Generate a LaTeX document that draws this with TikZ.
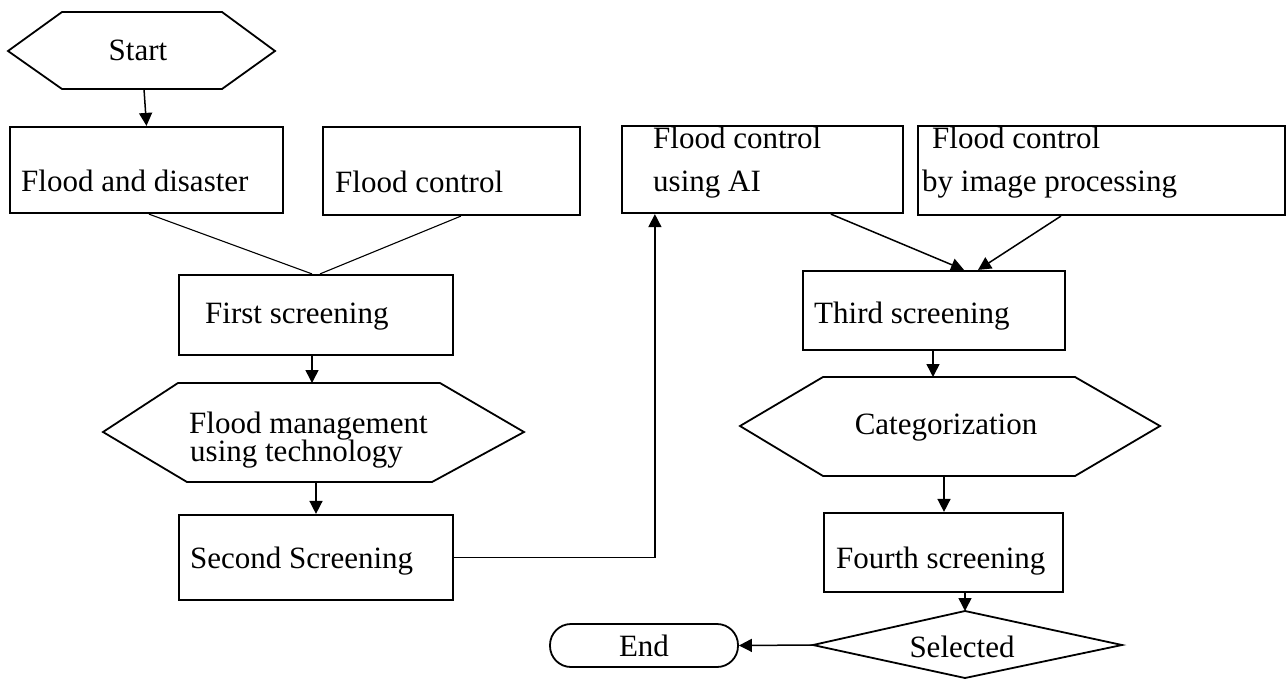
\documentclass[tikz,border=0pt]{standalone}
\usepackage{fontspec}
\setmainfont{Liberation Serif}
\usetikzlibrary{arrows.meta}
\begin{document}
\begin{tikzpicture}[x=1pt,y=-1pt,
  box/.style={draw, line width=2.2pt, inner sep=0pt},
  shp/.style={draw, line width=1.8pt, line join=miter},
  conn/.style={line width=1.1pt},
  arr/.style={line width=1.5pt, -{Triangle[length=13pt,width=13pt]}},
  txt/.style={anchor=base west, inner sep=0pt},
  font=\fontsize{31}{28}\selectfont]
\useasboundingbox (0,0) rectangle (1287,680);

% ---- hexagons and diamond (drawn shapes with named points)
\draw[shp] (8,51) -- (62,12) -- (222,12) -- (275,51) -- (222,89) -- (62,89) -- cycle;
\coordinate (startB) at (144,89);
\node[anchor=base, inner sep=0pt] (start) at (138,60) {Start};

\draw[shp] (103,432) -- (178,383) -- (440,383) -- (524,432) -- (432,482) -- (187,482) -- cycle;
\coordinate (fmT) at (312,383);
\coordinate (fmB) at (316,482);
\node[txt] (fm1) at (189,433) {Flood management};
\node[txt] (fm2) at (190,461) {using technology};

\draw[shp] (740,426) -- (823,377) -- (1075,377) -- (1160,426) -- (1075,476) -- (823,476) -- cycle;
\coordinate (catT) at (933,377);
\coordinate (catB) at (944,476);
\node[anchor=base, inner sep=0pt] (cat) at (946,434) {Categorization};

\draw[shp] (813,645) -- (965,611) -- (1122,645) -- (965,678) -- cycle;
\coordinate (selT) at (965,611);
\coordinate (selL) at (813,645);
\node[anchor=base, inner sep=0pt] (sel) at (962,657) {Selected};

\node[draw, line width=1.8pt, rounded corners=21pt, minimum width=188pt, minimum height=43pt, inner sep=0pt] (end) at (644,645.5) {End};

% ---- rectangles
\node[box, minimum width=273pt, minimum height=86pt] (fd) at (146.5,170) {};
\node[txt] at (21,191) {Flood and disaster};
\node[box, minimum width=257pt, minimum height=88pt] (fc) at (451.5,171) {};
\node[txt] at (335,192) {Flood control};
\node[box, minimum width=274pt, minimum height=80pt] (fs) at (316,315) {};
\node[txt] at (205,323) {First screening};
\node[box, minimum width=274pt, minimum height=85pt] (ss) at (316,557.5) {};
\node[txt] at (190,568) {Second Screening};
\node[box, minimum width=281pt, minimum height=87pt] (ai) at (762.5,169.5) {};
\node[txt] at (653,148) {Flood control};
\node[txt] at (653,191) {using AI};
\node[box, minimum width=367pt, minimum height=89pt] (ip) at (1101.5,170.5) {};
\node[txt] at (932,148) {Flood control};
\node[txt] at (922,191) {by image processing};
\node[box, minimum width=262pt, minimum height=79pt] (ts) at (934,310.5) {};
\node[txt] at (814,323) {Third screening};
\node[box, minimum width=239pt, minimum height=79pt] (fo) at (943.5,552.5) {};
\node[txt] at (836,568) {Fourth screening};

% ---- connectors
\draw[arr] (startB) -- (fd.north);
\draw[conn] ([xshift=140pt]fd.south west) -- ([xshift=-4pt]fs.north);
\draw[conn] ([xshift=139pt]fc.south west) -- ([xshift=4pt]fs.north);
\draw[arr] (fs.south -| fmT) -- (fmT);
\draw[arr] (fmB) -- (ss.north -| fmB);
\draw[arr] (ss.east) -| ([xshift=34pt]ai.south west);
\draw[arr] ([xshift=210pt]ai.south west) -- ([xshift=30pt]ts.north);
\draw[arr] ([xshift=144pt]ip.south west) -- ([xshift=44pt]ts.north);
\draw[arr] (ts.south -| catT) -- (catT);
\draw[arr] (catB) -- (fo.north -| catB);
\draw[arr] (fo.south -| selT) -- (selT);
\draw[arr] (selL) -- (end.east);
\end{tikzpicture}
\end{document}
